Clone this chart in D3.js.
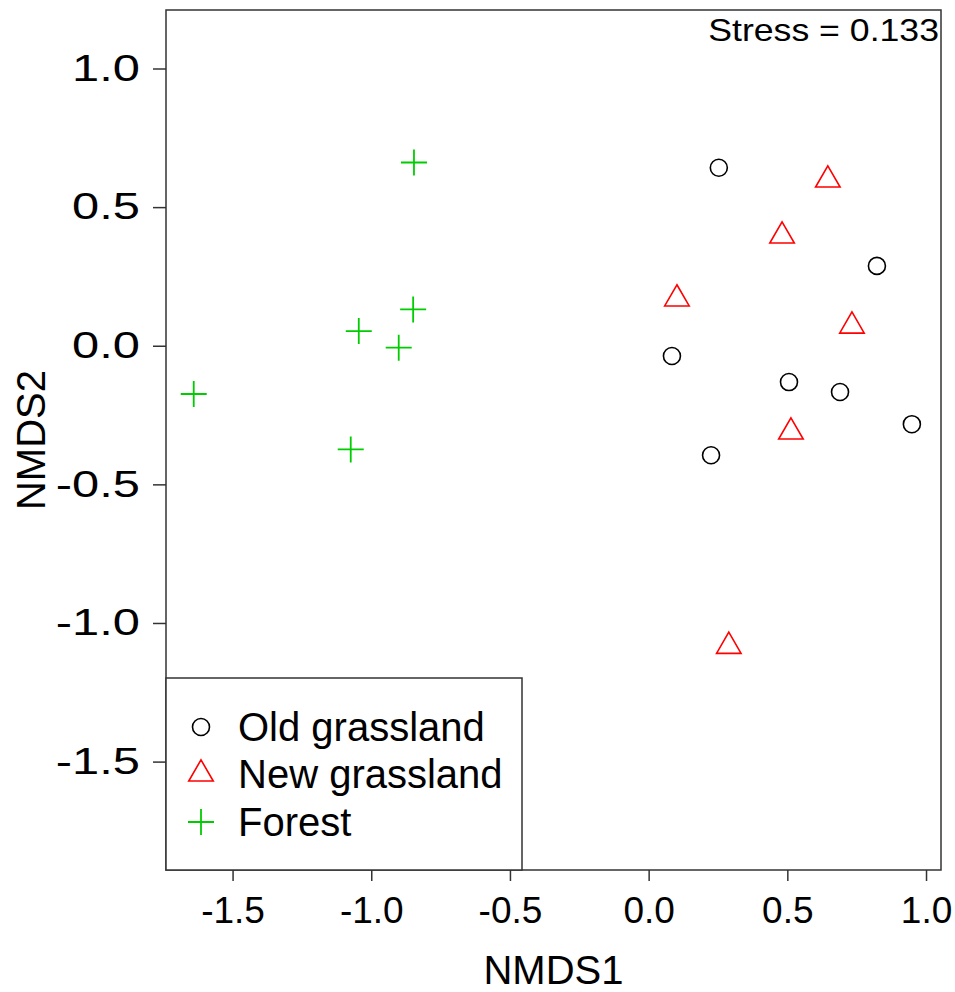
<!DOCTYPE html>
<html>
<head>
<meta charset="utf-8">
<script src="https://cdn.jsdelivr.net/npm/d3@7"></script>
<style>
  body { margin: 0; background: #fff; }
  text { font-family: "Liberation Sans", Arial, sans-serif; }
</style>
</head>
<body>
<svg width="955" height="992"></svg>
<script>
// NMDS scores
var oldX = [0.253, 0.823, 0.084, 0.506, 0.690, 0.949, 0.225];
var oldY = [0.642, 0.288, -0.037, -0.131, -0.167, -0.283, -0.395];
var newX = [0.646, 0.481, 0.102, 0.733, 0.513, 0.289];
var newY = [0.598, 0.396, 0.169, 0.071, -0.311, -1.084];
var forX = [-0.846, -0.849, -1.045, -0.901, -1.640, -1.074];
var forY = [0.661, 0.131, 0.053, -0.007, -0.174, -0.374];

var groups = ["Old grassland", "New grassland", "Forest"];
var groupColors = ["#000000", "#ff0000", "#00cd00"];
var xTicks = [-1.5, -1.0, -0.5, 0.0, 0.5, 1.0];
var yTicks = [-1.5, -1.0, -0.5, 0.0, 0.5, 1.0];
var stress = 0.133;

var svg = d3.select("svg");

var box = {left: 166, right: 941, top: 10, bottom: 870};

var x = d3.scaleLinear().domain([-1.740, 1.054]).range([box.left, box.right]);
var y = d3.scaleLinear().domain([-1.891, 1.211]).range([box.bottom, box.top]);

// R style labels: plain hyphen, one decimal
var fmt = d => d.toFixed(1);
var wide = 1.32; // y labels come out wider in the original

// axes
svg.append("g")
    .attr("transform", "translate(0," + box.bottom + ")")
    .call(d3.axisBottom(x).tickValues(xTicks).tickFormat(fmt).tickSize(11).tickPadding(16))
    .call(g => g.select(".domain").remove())
    .call(g => g.selectAll("line").attr("stroke", "#333").attr("stroke-width", 1.5))
    .call(g => g.selectAll("text").attr("font-size", 37).attr("fill", "#000")
        .attr("font-family", "Liberation Sans, Arial, sans-serif"));

svg.append("g")
    .attr("transform", "translate(" + box.left + ",0)")
    .call(d3.axisLeft(y).tickValues(yTicks).tickFormat(fmt).tickSize(13).tickPadding(13))
    .call(g => g.select(".domain").remove())
    .call(g => g.selectAll("line").attr("stroke", "#333").attr("stroke-width", 1.5))
    .call(g => g.selectAll("text").attr("font-size", 37).attr("fill", "#000")
        .attr("font-family", "Liberation Sans, Arial, sans-serif")
        .attr("x", -26 / wide).attr("transform", "scale(" + wide + ",1)"));

svg.append("rect")
    .attr("x", box.left).attr("y", box.top)
    .attr("width", box.right - box.left).attr("height", box.bottom - box.top)
    .attr("fill", "none").attr("stroke", "#333").attr("stroke-width", 1.5);

// axis titles
svg.append("text")
    .attr("x", (box.left + box.right) / 2).attr("y", 984)
    .attr("text-anchor", "middle").attr("font-size", 40)
    .text("NMDS1");
svg.append("text")
    .attr("transform", "translate(45," + (box.top + box.bottom) / 2 + ") rotate(-90)")
    .attr("text-anchor", "middle").attr("font-size", 40)
    .text("NMDS2");

svg.append("text")
    .attr("transform", "translate(939,41) scale(1.15,1)")
    .attr("text-anchor", "end").attr("font-size", 31)
    .text("Stress = " + stress);

// symbols
var tri = d3.symbol().type(d3.symbolTriangle).size(260);

function circles(g, xs, ys, col) {
  g.selectAll("circle").data(xs).enter().append("circle")
    .attr("cx", (d, i) => x(xs[i])).attr("cy", (d, i) => y(ys[i]))
    .attr("r", 8.5).attr("fill", "none").attr("stroke", col).attr("stroke-width", 1.6);
}
function triangles(g, xs, ys, col) {
  g.selectAll("path").data(xs).enter().append("path")
    .attr("d", tri)
    .attr("transform", (d, i) => "translate(" + x(xs[i]) + "," + y(ys[i]) + ")")
    .attr("fill", "none").attr("stroke", col).attr("stroke-width", 1.6);
}
function crosses(g, xs, ys, col) {
  g.selectAll("path").data(xs).enter().append("path")
    .attr("d", "M-13,0H13M0,-13V13")
    .attr("transform", (d, i) => "translate(" + x(xs[i]) + "," + y(ys[i]) + ")")
    .attr("fill", "none").attr("stroke", col).attr("stroke-width", 1.8);
}

circles(svg.append("g"), oldX, oldY, groupColors[0]);
triangles(svg.append("g"), newX, newY, groupColors[1]);
crosses(svg.append("g"), forX, forY, groupColors[2]);

// legend
var leg = svg.append("g");
leg.append("rect")
    .attr("x", box.left).attr("y", 678)
    .attr("width", 522 - box.left).attr("height", box.bottom - 678)
    .attr("fill", "#fff").attr("stroke", "#333").attr("stroke-width", 1.5);

var rowY = [727, 774, 822];
groups.forEach(function (name, i) {
  var sx = 201, sy = rowY[i];
  if (i === 0) {
    leg.append("circle").attr("cx", sx).attr("cy", sy).attr("r", 8.5)
      .attr("fill", "none").attr("stroke", groupColors[0]).attr("stroke-width", 1.6);
  } else if (i === 1) {
    leg.append("path").attr("d", tri).attr("transform", "translate(" + sx + "," + sy + ")")
      .attr("fill", "none").attr("stroke", groupColors[1]).attr("stroke-width", 1.6);
  } else {
    leg.append("path").attr("d", "M-13,0H13M0,-13V13").attr("transform", "translate(" + sx + "," + sy + ")")
      .attr("fill", "none").attr("stroke", groupColors[2]).attr("stroke-width", 1.8);
  }
  leg.append("text").attr("x", 238).attr("y", sy + 14)
    .attr("font-size", 40).text(name);
});
</script>
</body>
</html>
